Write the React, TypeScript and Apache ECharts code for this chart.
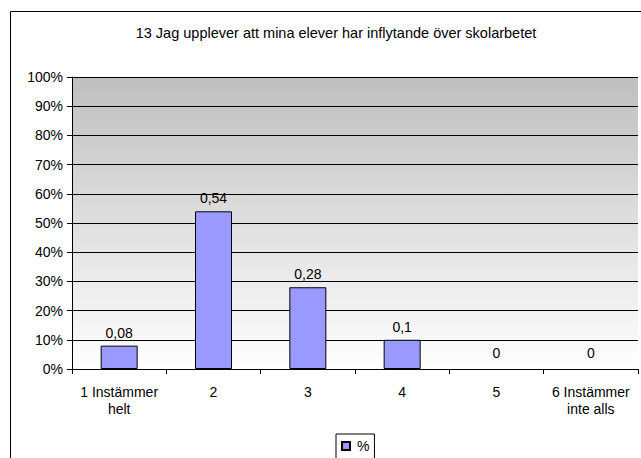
import React, { useEffect, useRef } from "react";
import * as echarts from "echarts";

const titleText = "13 Jag upplever att mina elever har inflytande över skolarbetet";
const categories = ["1 Instämmer\nhelt", "2", "3", "4", "5", "6 Instämmer\ninte alls"];
const values = [0.08, 0.54, 0.28, 0.1, 0, 0];
const seriesName = "%";

const FONT = "'Liberation Sans', Arial, sans-serif";

export default function App() {
  const ref = useRef<HTMLDivElement>(null);
  useEffect(() => {
    document.body.style.margin = "0";
    const chart = echarts.init(ref.current!, null, { renderer: "svg" });
    chart.setOption({
      animation: false,
      backgroundColor: "#ffffff",
      textStyle: { fontFamily: FONT },
      title: {
        text: titleText,
        left: 331,
        top: 20,
        textAlign: "center",
        textStyle: { fontFamily: FONT, fontSize: 14.5, fontWeight: "normal", color: "#000" },
      },
      graphic: [
        {
          type: "rect",
          shape: { x: 10.5, y: 11.5, width: 700, height: 600 },
          style: { fill: "none", stroke: "#000", lineWidth: 1 },
          silent: true,
          z: -1,
        },
      ],
      legend: {
        left: 336,
        top: 434,
        padding: [5, 5, 6, 5],
        borderColor: "#000",
        borderWidth: 1,
        itemWidth: 8,
        itemHeight: 8,
        itemGap: 5,
        icon: "rect",
        textStyle: { fontFamily: FONT, fontSize: 14, color: "#000", padding: [0, 0, 0, 2] },
        data: [seriesName],
      },
      grid: {
        left: 72,
        right: 3,
        top: 77,
        bottom: 89,
        show: true,
        borderWidth: 0,
        backgroundColor: new echarts.graphic.LinearGradient(0, 0, 0, 1, [
          { offset: 0, color: "#bfbfbf" },
          { offset: 1, color: "#ffffff" },
        ]),
      },
      xAxis: {
        type: "category",
        data: categories,
        boundaryGap: true,
        axisLine: { lineStyle: { color: "#000", width: 1 } },
        axisTick: { show: true, length: 5, alignWithLabel: false, lineStyle: { color: "#000" } },
        axisLabel: {
          fontFamily: FONT,
          fontSize: 14,
          color: "#000",
          margin: 14,
          lineHeight: 17,
          interval: 0,
        },
      },
      yAxis: {
        type: "value",
        min: 0,
        max: 1,
        interval: 0.1,
        axisLine: { show: true, lineStyle: { color: "#000", width: 1 } },
        axisTick: { show: true, length: 5, lineStyle: { color: "#000" } },
        splitLine: { show: true, lineStyle: { color: "#000", width: 1 } },
        axisLabel: {
          fontFamily: FONT,
          fontSize: 14,
          color: "#000",
          margin: 9,
          formatter: (v: number) => `${Math.round(v * 100)}%`,
        },
      },
      series: [
        {
          name: seriesName,
          type: "bar",
          data: values.map((v) =>
            v === 0
              ? { value: v, itemStyle: { borderWidth: 0, opacity: 0 }, label: { distance: 9 } }
              : v
          ),
          barWidth: 37,
          itemStyle: { color: "#9999ff", borderColor: "#000", borderWidth: 1 },
          label: {
            show: true,
            position: "top",
            distance: 6,
            fontFamily: FONT,
            fontSize: 14,
            color: "#000",
            opacity: 1,
            formatter: (p: any) => String(p.value).replace(".", ","),
          },
        },
      ],
    });
    return () => chart.dispose();
  }, []);
  return <div ref={ref} style={{ width: 641, height: 458 }} />;
}
